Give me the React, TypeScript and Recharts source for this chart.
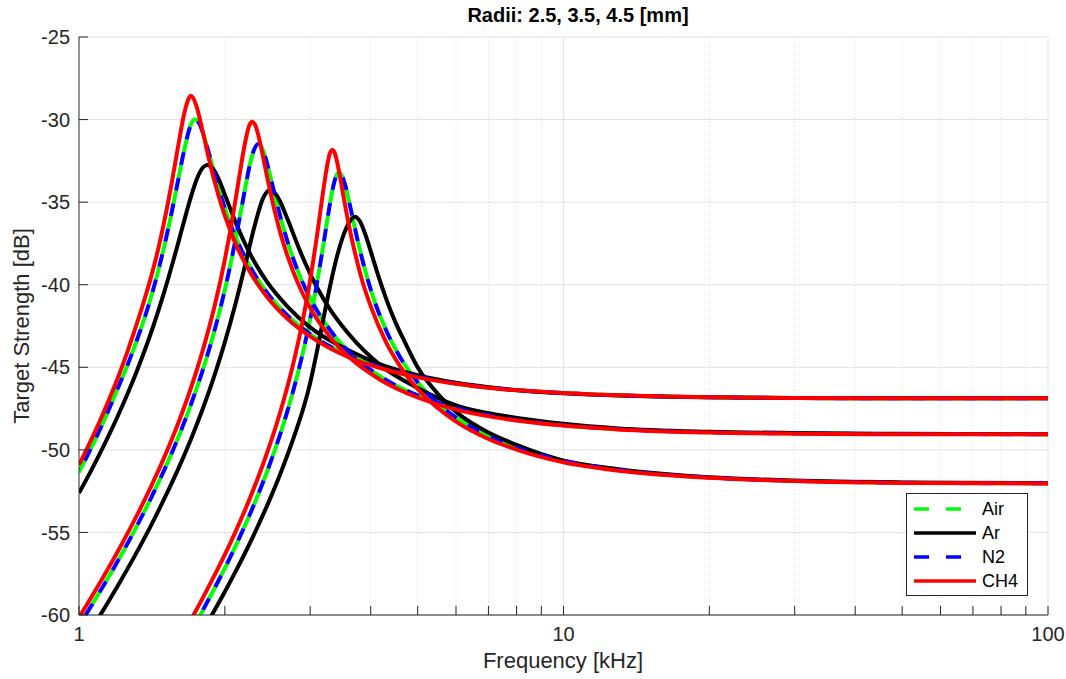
import { LineChart, Line, XAxis, YAxis, CartesianGrid } from 'recharts';

// frequency [kHz], target strength [dB]
const airLarge = [
  [1, -51.35], [1.05, -50.12], [1.1, -48.88], [1.15, -47.62], [1.2, -46.33], [1.25, -45.1], [1.3, -43.8],
  [1.35, -42.45], [1.4, -41.0], [1.45, -39.4], [1.5, -37.65], [1.55, -35.75], [1.6, -33.75], [1.65, -31.8],
  [1.7, -30.35], [1.735, -29.98], [1.77, -30.23], [1.8, -30.76], [1.85, -31.94], [1.9, -33.19], [1.95, -34.33],
  [2.0, -35.36], [2.1, -37.03], [2.2, -38.32], [2.3, -39.34], [2.44, -40.45], [2.7, -41.89], [3.0, -42.99],
  [3.6, -44.28], [4.2, -45.0], [5, -45.57], [6, -45.98], [7.4, -46.3], [10, -46.56], [13, -46.7],
  [20, -46.82], [30, -46.86], [50, -46.88], [100, -46.88],
];
const arLarge = [
  [1, -52.61], [1.05, -51.47], [1.1, -50.32], [1.15, -49.17], [1.2, -48.01], [1.25, -46.83], [1.3, -45.63],
  [1.35, -44.39], [1.4, -43.12], [1.45, -41.79], [1.5, -40.42], [1.55, -38.99], [1.6, -37.54], [1.65, -36.09],
  [1.7, -34.73], [1.75, -33.61], [1.8, -32.92], [1.84, -32.75], [1.9, -33.07], [1.95, -33.72], [2.0, -34.55],
  [2.1, -36.15], [2.2, -37.5], [2.3, -38.6], [2.44, -39.8], [2.7, -41.35], [3.0, -42.58], [3.6, -43.97],
  [4.2, -44.84], [5, -45.48], [6, -45.94], [7.4, -46.29], [10, -46.58], [13, -46.71], [20, -46.82],
  [30, -46.86], [50, -46.88], [100, -46.88],
];
const ch4Large = [
  [1, -50.91], [1.05, -49.64], [1.1, -48.36], [1.15, -47.05], [1.2, -45.71], [1.25, -44.31], [1.3, -42.84],
  [1.35, -41.35], [1.4, -39.8], [1.45, -38.1], [1.5, -36.15], [1.55, -34.0], [1.6, -31.7], [1.65, -29.6],
  [1.68, -28.8], [1.7, -28.55], [1.72, -28.68], [1.75, -29.25], [1.8, -30.71], [1.85, -32.25], [1.9, -33.63],
  [1.95, -34.81], [2.0, -35.82], [2.1, -37.45], [2.2, -38.68], [2.3, -39.65], [2.44, -40.71], [2.7, -42.09],
  [3.0, -43.13], [3.6, -44.39], [4.2, -45.06], [5, -45.61], [6, -46.0], [7.4, -46.31], [10, -46.56],
  [13, -46.7], [20, -46.82], [30, -46.86], [50, -46.88], [100, -46.88],
];

const airMedium = [
  [1, -60.65], [1.1, -58.67], [1.2, -56.78], [1.3, -54.92], [1.4, -53.07], [1.5, -51.21], [1.6, -49.3],
  [1.7, -47.3], [1.8, -45.18], [1.9, -42.87], [2.0, -40.3], [2.05, -38.89], [2.1, -37.39], [2.15, -35.82],
  [2.2, -34.24], [2.25, -32.8], [2.3, -31.8], [2.345, -31.48], [2.4, -31.89], [2.45, -32.76], [2.5, -33.8],
  [2.55, -34.84], [2.6, -35.81], [2.7, -37.48], [2.85, -39.4], [3.0, -40.82], [3.3, -42.76], [3.6, -44.04],
  [4.2, -45.58], [5, -46.7], [6, -47.46], [7.4, -48.03], [10, -48.51], [13, -48.75], [20, -48.94],
  [30, -49.01], [50, -49.04], [100, -49.05],
];
const arMedium = [
  [1, -62.04], [1.05, -61.06], [1.1, -60.12], [1.2, -58.27], [1.3, -56.48], [1.4, -54.72], [1.5, -52.96],
  [1.6, -51.2], [1.7, -49.4], [1.8, -47.53], [1.9, -45.57], [2.0, -43.48], [2.1, -41.24], [2.2, -38.87],
  [2.3, -36.52], [2.4, -34.74], [2.479, -34.26], [2.55, -34.53], [2.6, -34.96], [2.7, -36.1], [2.85, -37.86],
  [3.0, -39.34], [3.1, -40.17], [3.3, -41.51], [3.6, -42.97], [4.2, -44.9], [5, -46.25], [6, -47.3],
  [7.4, -47.9], [10, -48.42], [13, -48.7], [20, -48.9], [30, -48.98], [50, -49.03], [100, -49.05],
];
const ch4Medium = [
  [1, -60.16], [1.1, -58.14], [1.2, -56.2], [1.3, -54.29], [1.4, -52.38], [1.5, -50.44], [1.6, -48.43],
  [1.7, -46.3], [1.8, -43.99], [1.9, -41.43], [2.0, -38.48], [2.05, -36.81], [2.1, -35.02], [2.15, -33.16],
  [2.2, -31.45], [2.25, -30.31], [2.279, -30.13], [2.32, -30.47], [2.35, -31.05], [2.4, -32.3], [2.45, -33.6],
  [2.5, -34.79], [2.6, -36.8], [2.7, -38.35], [2.85, -40.11], [3.0, -41.4], [3.3, -43.18], [3.6, -44.35],
  [4.2, -45.78], [5, -46.83], [6, -47.56], [7.4, -48.08], [10, -48.53], [13, -48.76], [20, -48.95],
  [30, -49.02], [50, -49.05], [100, -49.05],
];

const airSmall = [
  [1.75, -60.38], [1.8, -59.73], [1.9, -58.44], [2.0, -57.16], [2.1, -55.88], [2.2, -54.59], [2.3, -53.28],
  [2.4, -51.93], [2.5, -50.53], [2.6, -49.08], [2.7, -47.53], [2.8, -45.87], [2.9, -44.07], [3.0, -42.08],
  [3.1, -39.87], [3.2, -37.45], [3.3, -35.01], [3.35, -34.01], [3.4, -33.37], [3.44, -33.2], [3.5, -33.49],
  [3.55, -34.06], [3.6, -34.81], [3.7, -36.42], [3.8, -37.9], [4.0, -40.29], [4.3, -42.73], [4.6, -44.39],
  [5, -45.9], [5.5, -47.17], [6, -48.05], [7, -49.18], [8, -49.87], [10, -50.65], [13, -51.21],
  [20, -51.67], [30, -51.88], [50, -51.99], [100, -52.03],
];
const arSmall = [
  [1.85, -60.36], [2.0, -58.59], [2.1, -57.42], [2.2, -56.26], [2.3, -55.09], [2.4, -53.91], [2.5, -52.71],
  [2.6, -51.49], [2.7, -50.22], [2.8, -48.91], [2.9, -47.54], [3.0, -45.95], [3.1, -44.0], [3.2, -41.95],
  [3.3, -40.05], [3.4, -38.4], [3.5, -37.15], [3.6, -36.3], [3.713, -35.88], [3.8, -36.16], [3.9, -36.96],
  [4.0, -37.97], [4.15, -39.48], [4.3, -40.81], [4.5, -42.28], [4.7, -43.45], [5, -45.0], [5.5, -46.6],
  [6, -47.7], [7, -48.95], [8, -49.7], [10, -50.65], [13, -51.17], [20, -51.66], [30, -51.86],
  [50, -51.97], [100, -52.02],
];
const ch4Small = [
  [1.7, -60.32], [1.8, -58.98], [1.9, -57.65], [2.0, -56.34], [2.1, -55.01], [2.2, -53.66], [2.3, -52.27],
  [2.4, -50.84], [2.5, -49.34], [2.6, -47.75], [2.7, -46.04], [2.8, -44.17], [2.9, -42.09], [3.0, -39.72],
  [3.1, -37.0], [3.2, -34.1], [3.25, -32.83], [3.3, -32.0], [3.333, -31.84], [3.37, -32.0], [3.4, -32.4],
  [3.45, -33.3], [3.5, -34.35], [3.55, -35.35], [3.6, -36.28], [3.7, -37.9], [3.85, -39.85], [4.0, -41.3],
  [4.3, -43.46], [4.6, -44.94], [5, -46.31], [5.5, -47.47], [6, -48.29], [7, -49.34], [8, -49.98],
  [10, -50.75], [13, -51.26], [20, -51.69], [30, -51.89], [50, -52.0], [100, -52.03],
];

// N2 sits on top of Air everywhere in the figure
const n2Large = airLarge;
const n2Medium = airMedium;
const n2Small = airSmall;

const xTicks = [1, 2, 3, 4, 5, 6, 7, 8, 9, 10, 20, 30, 40, 50, 60, 70, 80, 90, 100];
const xLabelled = [1, 10, 100];
const xMajor = [10, 100];
const xMinor = [2, 3, 4, 5, 6, 7, 8, 9, 20, 30, 40, 50, 60, 70, 80, 90];
const yTicks = [-60, -55, -50, -45, -40, -35, -30, -25];

const gases = [
  { name: 'Air', color: '#00ff00', dash: '13 13', offset: 0, sets: [airSmall, airMedium, airLarge] },
  { name: 'Ar', color: '#000000', dash: undefined, offset: 0, sets: [arSmall, arMedium, arLarge] },
  { name: 'N2', color: '#0000ff', dash: '13 13', offset: 13, sets: [n2Small, n2Medium, n2Large] },
  { name: 'CH4', color: '#ff0000', dash: undefined, offset: 0, sets: [ch4Small, ch4Medium, ch4Large] },
];

const toPoints = (pairs: number[][]) => pairs.map(([f, db]) => ({ f, db }));

const FONT = '"Liberation Sans", Arial, Helvetica, sans-serif';
const AXIS = '#262626';

function Legend() {
  return (
    <div
      style={{
        position: 'absolute', left: 906, top: 493, width: 120, height: 101,
        border: `1px solid ${AXIS}`, background: '#fff', fontSize: 18, color: '#000',
      }}
    >
      {gases.map((g, i) => (
        <div key={g.name} style={{ position: 'absolute', left: 0, top: 3 + i * 24, height: 24, width: 120 }}>
          <svg width={70} height={24} style={{ position: 'absolute', left: 0, top: 0 }}>
            <line
              x1={7} x2={69} y1={12} y2={12}
              stroke={g.color} strokeWidth={3.5}
              strokeDasharray={g.dash ? '15 17' : undefined}
            />
          </svg>
          <span style={{ position: 'absolute', left: 75, top: 1, lineHeight: '22px' }}>{g.name}</span>
        </div>
      ))}
    </div>
  );
}

export default function App() {
  return (
    <div style={{ position: 'absolute', left: 0, top: 0, width: 1066, height: 679, background: '#fff', fontFamily: FONT }}>
      <LineChart width={1066} height={679} margin={{ top: 37, right: 18, left: 19, bottom: 34 }}>
        <CartesianGrid horizontal vertical={false} stroke="#e2e2e2" />
        <CartesianGrid horizontal={false} verticalValues={xMinor} stroke="#d4d4d4" strokeDasharray="1 3" />
        <CartesianGrid horizontal={false} verticalValues={xMajor} stroke="#e2e2e2" />
        <XAxis
          dataKey="f" type="number" scale="log" domain={[1, 100]} allowDataOverflow
          ticks={xTicks} interval={0} height={30}
          tickFormatter={(v: number) => (xLabelled.includes(v) ? String(v) : '')}
          tickSize={-9} tickMargin={21}
          stroke={AXIS} tick={{ fill: AXIS, fontSize: 20, fontFamily: FONT }}
        />
        <YAxis
          type="number" domain={[-60, -25]} allowDataOverflow ticks={yTicks} interval={0} width={60}
          tickSize={-9} tickMargin={18}
          stroke={AXIS} tick={{ fill: AXIS, fontSize: 20, fontFamily: FONT }}
        />
        {gases.map((g) =>
          g.sets.map((set, j) => (
            <Line
              key={`${g.name}-${j}`}
              data={toPoints(set)}
              dataKey="db"
              type="monotone"
              stroke={g.color}
              strokeWidth={4}
              strokeDasharray={g.dash}
              strokeDashoffset={g.offset}
              dot={false}
              activeDot={false}
              isAnimationActive={false}
            />
          ))
        )}
      </LineChart>

      <div style={{ position: 'absolute', left: 363, top: 4, width: 430, textAlign: 'center', fontWeight: 'bold', fontSize: 20, color: '#000' }}>
        Radii: 2.5, 3.5, 4.5 [mm]
      </div>
      <div style={{ position: 'absolute', left: 363, top: 648, width: 400, textAlign: 'center', fontSize: 22, color: AXIS }}>
        Frequency [kHz]
      </div>
      <div
        style={{
          position: 'absolute', left: 22 - 150, top: 326 - 15, width: 300, height: 30, lineHeight: '30px',
          textAlign: 'center', fontSize: 22, color: AXIS, transform: 'rotate(-90deg)',
        }}
      >
        Target Strength [dB]
      </div>
      <Legend />
    </div>
  );
}
